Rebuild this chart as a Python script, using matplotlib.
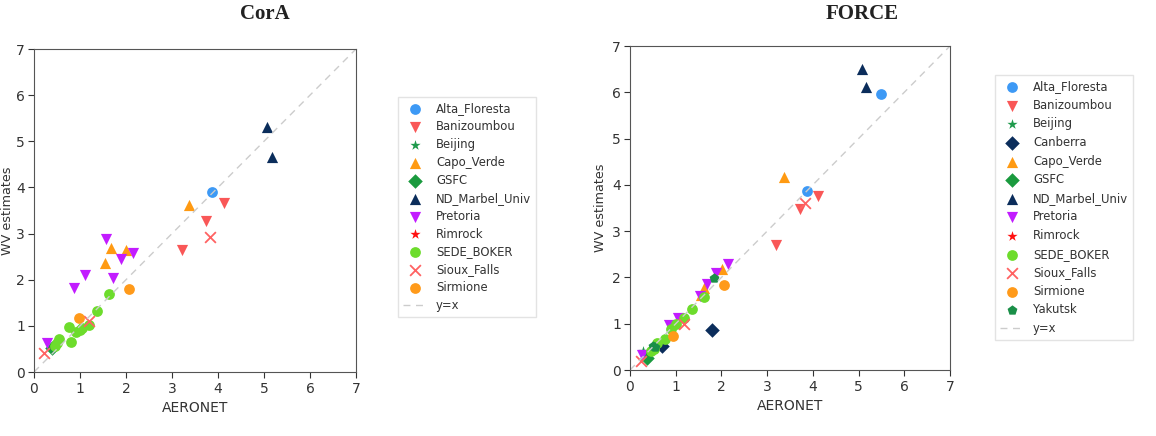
import matplotlib
matplotlib.use("Agg")
import matplotlib.pyplot as plt

W, H = 1156, 436

# ---------------- data ----------------
stations_cora = ["Alta_Floresta", "Banizoumbou", "Beijing", "Capo_Verde", "GSFC",
                 "ND_Marbel_Univ", "Pretoria", "Rimrock", "SEDE_BOKER", "Sioux_Falls", "Sirmione"]
cora_x = {
    "Alta_Floresta": [3.87],
    "Banizoumbou": [4.13, 3.74, 3.22],
    "Beijing": [0.42],
    "Capo_Verde": [3.38, 1.67, 2.00, 1.54],
    "GSFC": [0.40],
    "ND_Marbel_Univ": [5.06, 5.17],
    "Pretoria": [1.56, 1.90, 2.16, 1.11, 1.72, 0.87, 0.28],
    "Rimrock": [0.50],
    "SEDE_BOKER": [1.63, 1.36, 1.19, 1.05, 0.76, 0.91, 0.80, 0.54, 0.50, 1.00, 0.45],
    "Sioux_Falls": [3.82, 1.19, 0.22],
    "Sirmione": [2.06, 0.97],
}
cora_y = {
    "Alta_Floresta": [3.90],
    "Banizoumbou": [3.66, 3.28, 2.65],
    "Beijing": [0.55],
    "Capo_Verde": [3.62, 2.68, 2.65, 2.36],
    "GSFC": [0.52],
    "ND_Marbel_Univ": [5.31, 4.67],
    "Pretoria": [2.88, 2.45, 2.57, 2.10, 2.03, 1.82, 0.63],
    "Rimrock": [0.62],
    "SEDE_BOKER": [1.69, 1.32, 1.02, 0.95, 0.97, 0.87, 0.66, 0.71, 0.62, 0.92, 0.57],
    "Sioux_Falls": [2.92, 1.11, 0.41],
    "Sirmione": [1.80, 1.17],
}

stations_force = ["Alta_Floresta", "Banizoumbou", "Beijing", "Canberra", "Capo_Verde", "GSFC",
                  "ND_Marbel_Univ", "Pretoria", "Rimrock", "SEDE_BOKER", "Sioux_Falls",
                  "Sirmione", "Yakutsk"]
force_x = {
    "Alta_Floresta": [5.48, 3.87],
    "Banizoumbou": [4.12, 3.72, 3.20],
    "Beijing": [0.28],
    "Canberra": [1.79, 0.69],
    "Capo_Verde": [3.37, 2.02, 1.62, 1.55],
    "GSFC": [0.38],
    "ND_Marbel_Univ": [5.07, 5.16],
    "Pretoria": [2.14, 1.89, 1.68, 1.54, 1.06, 0.86, 0.26],
    "Rimrock": [0.50],
    "SEDE_BOKER": [1.62, 1.35, 1.19, 1.00, 0.90, 0.77, 0.60, 0.52, 0.45],
    "Sioux_Falls": [3.83, 1.19, 0.23],
    "Sirmione": [2.05, 0.95],
    "Yakutsk": [1.84, 0.50, 0.55],
}
force_y = {
    "Alta_Floresta": [5.97, 3.86],
    "Banizoumbou": [3.76, 3.48, 2.70],
    "Beijing": [0.40],
    "Canberra": [0.86, 0.52],
    "Capo_Verde": [4.17, 2.18, 1.78, 1.62],
    "GSFC": [0.25],
    "ND_Marbel_Univ": [6.50, 6.12],
    "Pretoria": [2.30, 2.10, 1.86, 1.60, 1.12, 0.97, 0.32],
    "Rimrock": [0.45],
    "SEDE_BOKER": [1.58, 1.31, 1.12, 0.99, 0.88, 0.66, 0.58, 0.45, 0.40],
    "Sioux_Falls": [3.60, 0.99, 0.20],
    "Sirmione": [1.83, 0.74],
    "Yakutsk": [1.99, 0.52, 0.50],
}

ticks = [0, 1, 2, 3, 4, 5, 6, 7]

# ---------------- styles ----------------
style = {
    "Alta_Floresta": dict(marker="o", color="#3d99f5"),
    "Banizoumbou": dict(marker="v", color="#f95757"),
    "Beijing": dict(marker="*", color="#1f9a4c"),
    "Canberra": dict(marker="D", color="#0b2d5b"),
    "Capo_Verde": dict(marker="^", color="#ff9a12"),
    "GSFC": dict(marker="D", color="#1a9a3e"),
    "ND_Marbel_Univ": dict(marker="^", color="#0b2d5b"),
    "Pretoria": dict(marker="v", color="#c21cff"),
    "Rimrock": dict(marker="*", color="#ff1010"),
    "SEDE_BOKER": dict(marker="o", color="#6ddc2c"),
    "Sioux_Falls": dict(marker="x", color="#ff6262"),
    "Sirmione": dict(marker="o", color="#ff9a1a"),
    "Yakutsk": dict(marker="p", color="#1a8f48"),
}
sizes = {"o": 60, "v": 65, "^": 65, "*": 60, "D": 55, "x": 60, "p": 55}

fig = plt.figure(figsize=(W / 100, H / 100), dpi=100)


def panel(rect, stations, xs, ys, legend_xy, spacing, title, title_x, ylab_x):
    ax = fig.add_axes([rect[0] / W, 1 - rect[3] / H, (rect[2] - rect[0]) / W, (rect[3] - rect[1]) / H])
    for s in stations:
        st = style[s]
        ax.scatter(xs[s], ys[s], marker=st["marker"], color=st["color"],
                   s=sizes[st["marker"]], label=s, linewidths=1.3 if st["marker"] == "x" else 0)
    ax.plot(ticks, ticks, linestyle="--", color="#cccccc", lw=1, label="y=x", dashes=(5, 4))
    ax.set_xlim(0, 7)
    ax.set_ylim(0, 7)
    ax.set_xticks(ticks)
    ax.set_yticks(ticks)
    ax.tick_params(labelsize=10, colors="#333333", length=4)
    ax.tick_params(axis="y", pad=2.5)
    for sp in ax.spines.values():
        sp.set_color("#555555")
    ax.set_xlabel("AERONET", fontsize=10, color="#333333", labelpad=3)
    ax.set_ylabel("WV estimates", fontsize=9.2, color="#333333", va="center")
    ax.yaxis.set_label_coords((ylab_x - rect[0]) / (rect[2] - rect[0]), 0.5)
    leg = fig.legend(*ax.get_legend_handles_labels(), loc="upper left",
                     bbox_to_anchor=(legend_xy[0] / W, 1 - legend_xy[1] / H),
                     fontsize=8.4, labelspacing=spacing, handlelength=2.0, borderpad=0.45,
                     borderaxespad=0, frameon=True, fancybox=False, edgecolor="#dddddd")
    for t in leg.get_texts():
        t.set_color("#333333")
    fig.text(title_x / W, 1 - 14 / H, title, ha="center", va="center",
             fontsize=15, fontweight="bold", family="Liberation Serif", color="#222222")
    return ax


panel((34, 49, 356, 372), stations_cora, cora_x, cora_y, (398, 97), 0.42, "CorA", 265, 8)
panel((630, 46, 950, 370), stations_force, force_x, force_y, (995, 75), 0.48, "FORCE", 862, 600)

fig.savefig("out.png", dpi=100)
